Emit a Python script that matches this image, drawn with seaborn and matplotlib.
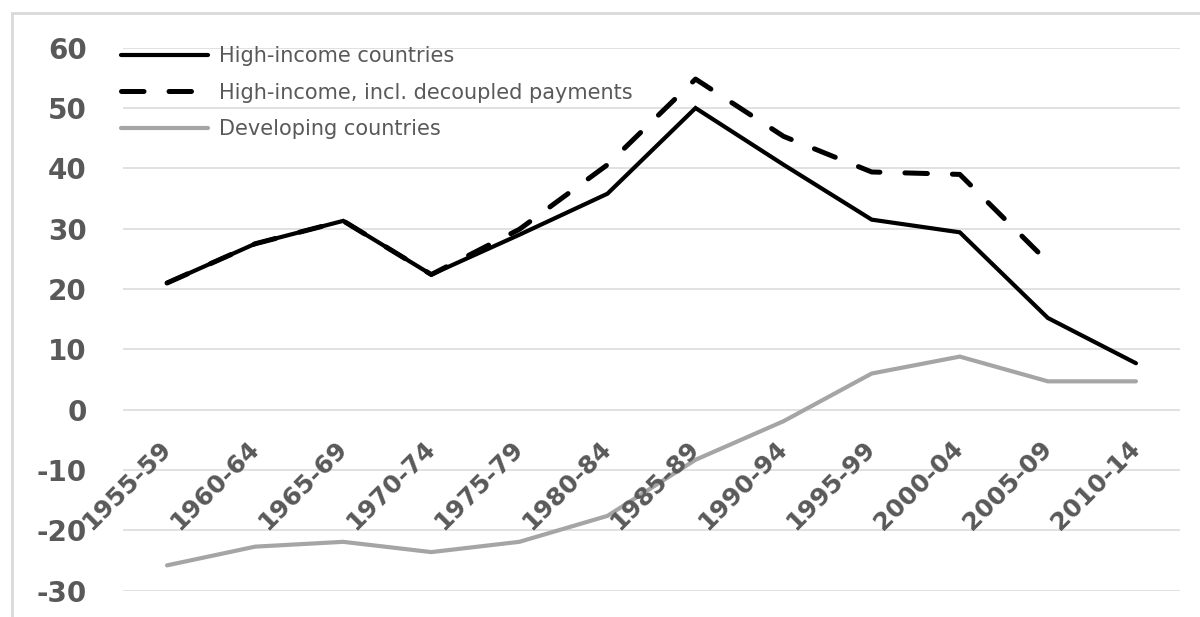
import numpy as np
import pandas as pd
import matplotlib
matplotlib.use("Agg")
import matplotlib.pyplot as plt
from matplotlib.patches import Rectangle
import seaborn as sns

periods = ['1955-59', '1960-64', '1965-69', '1970-74', '1975-79', '1980-84',
           '1985-89', '1990-94', '1995-99', '2000-04', '2005-09', '2010-14']
high_income = [21.0, 27.5, 31.3, 22.4, 29.0, 35.8, 50.0, 40.6, 31.5, 29.4, 15.2, 7.7]
high_decoupled = [21.0, 27.5, 31.3, 22.4, 29.9, 40.6, 54.8, 45.3, 39.4, 39.0, 24.5, np.nan]
developing = [-25.8, -22.7, -21.9, -23.6, -21.9, -17.6, -8.3, -1.9, 6.0, 8.8, 4.7, 4.7]
yticks = list(range(-30, 61, 10))

names = ['High-income countries', 'High-income, incl. decoupled payments', 'Developing countries']
df = pd.concat([
    pd.DataFrame({'period': periods, 'value': high_income, 'series': names[0]}),
    pd.DataFrame({'period': periods, 'value': high_decoupled, 'series': names[1]}),
    pd.DataFrame({'period': periods, 'value': developing, 'series': names[2]}),
]).dropna()

sns.set_style("white")
plt.rcParams['font.family'] = ['DejaVu Sans']

txt = '#595959'
grid = '#D9D9D9'

fig = plt.figure(figsize=(12, 6.17), dpi=100)
ax = fig.add_axes([123 / 1200, 1 - 590.7 / 617, 1057 / 1200, 543 / 617])

palette = {names[0]: 'black', names[1]: 'black', names[2]: '#A5A5A5'}
dashes = {names[0]: '', names[1]: (4.5, 5.0), names[2]: ''}
sizes = {names[0]: 3.0, names[1]: 3.6, names[2]: 3.0}

sns.lineplot(data=df, x='period', y='value', hue='series', style='series',
             size='series', palette=palette, dashes=dashes, sizes=sizes,
             hue_order=names, style_order=names, size_order=names,
             sort=False, ax=ax, legend=True, dash_capstyle='round',
             solid_capstyle='round', solid_joinstyle='miter')

# spines first: moving the bottom spine resets the ticks
for s in ['top', 'right', 'left']:
    ax.spines[s].set_visible(False)
ax.spines['bottom'].set_position(('data', 0))
ax.spines['bottom'].set_color('none')

ax.set_xlim(-0.5, len(periods) - 0.5)
ax.set_ylim(-30, 60)
ax.tick_params(axis='y', length=0, pad=26)
ax.tick_params(axis='x', length=0, pad=25)
ax.set_yticks(yticks)
ax.set_yticklabels([str(v) for v in yticks], fontsize=20, fontweight='bold', color=txt)
ax.set_xticks(range(len(periods)))
ax.set_xticklabels(periods, rotation=45, ha='right', va='center',
                   rotation_mode='anchor', fontsize=18, fontweight='bold', color=txt)
ax.set_xlabel('')
ax.set_ylabel('')

ax.yaxis.grid(True, color=grid, linewidth=1.1)
ax.set_axisbelow(True)
ax.xaxis.set_zorder(3)

handles, labels = ax.get_legend_handles_labels()
hl = {l: h for h, l in zip(handles, labels)}
leg = ax.legend([hl[n] for n in names], names, loc='upper left',
                bbox_to_anchor=(-0.002, 1.003), frameon=False, fontsize=15,
                handlelength=4.2, handletextpad=0.5, labelspacing=0.8,
                borderpad=0, borderaxespad=0)
for t in leg.get_texts():
    t.set_color(txt)

fig.patches.append(Rectangle((12 / 1200, -0.1), 1.2, 1.1 - 13 / 617,
                             transform=fig.transFigure, fill=False,
                             edgecolor=grid, linewidth=2, zorder=0))

fig.savefig('out.png', dpi=100, facecolor='white')
